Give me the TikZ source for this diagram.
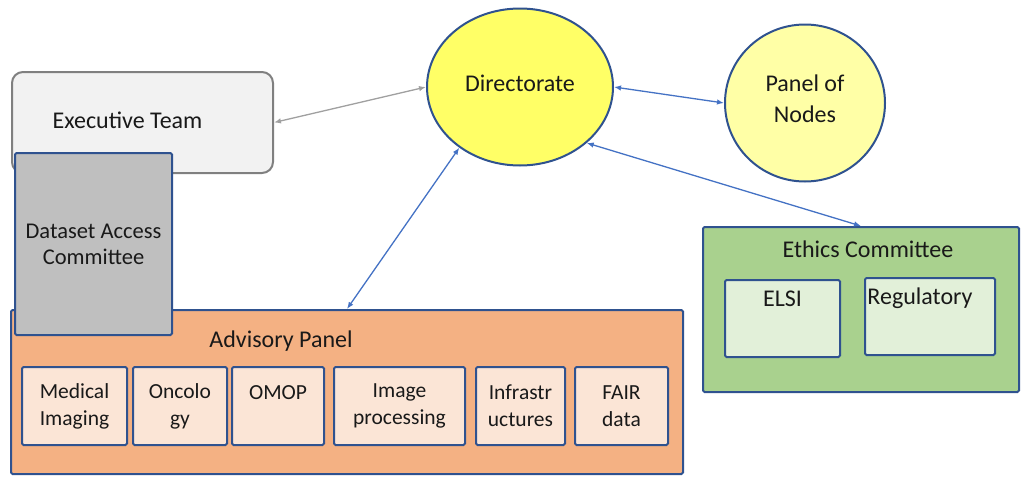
\documentclass[tikz,border=0pt]{standalone}
\usepackage{fontspec}
\setmainfont{Carlito}
\usetikzlibrary{arrows.meta,shapes.geometric}

\definecolor{boxblue}{HTML}{2F528F}
\definecolor{linkblue}{HTML}{4472C4}
\definecolor{linkgray}{HTML}{A0A0A0}
\definecolor{execgray}{HTML}{F2F2F2}
\definecolor{dacgray}{HTML}{BFBFBF}
\definecolor{advorange}{HTML}{F4B183}
\definecolor{advpeach}{HTML}{FBE5D6}
\definecolor{ethgreen}{HTML}{A9D18E}
\definecolor{ethlight}{HTML}{E2F0D9}
\definecolor{diryellow}{HTML}{FFFF66}
\definecolor{panelyellow}{HTML}{FFFFA6}

\tikzset{
  bigtext/.style={font=\fontsize{24}{31}\selectfont, text=black!90},
  smalltext/.style={font=\fontsize{21.5}{27}\selectfont, text=black!90},
  container/.style={draw=boxblue, line width=2pt, rounded corners=1.5pt, inner sep=0pt},
  apbox/.style={container, fill=advpeach, minimum height=78pt, smalltext, align=center},
  ecbox/.style={container, fill=ethlight, minimum height=77pt},
  bubble/.style={ellipse, draw=boxblue, line width=2pt, inner sep=0pt, minimum height=157pt},
  link/.style={linkblue, line width=1.3pt, <->, >={Latex[length=7pt,width=5.5pt]}},
  graylink/.style={link, linkgray}
}

\begin{document}
\begin{tikzpicture}[x=1pt, y=-1pt]
\useasboundingbox (0,0) rectangle (1021,477);

% executive team and the boxes below it
\node[draw=gray, fill=execgray, line width=2pt, rounded corners=11pt, minimum width=261pt, minimum height=101pt] (exec) at (142.5,122.5) {};
\node[bigtext] (exectext) at ([xshift=-15pt,yshift=2pt]exec.center) {Executive Team};
\node[container, fill=advorange, minimum width=672pt, minimum height=164pt] (adv) at (347,392) {};
\node[container, fill=dacgray, minimum width=157pt, minimum height=182pt, align=center,
      font=\fontsize{22.5}{26}\selectfont, text=black!90] (dac) at (93.5,244) {Dataset Access\\Committee};
\node[bigtext] (advtitle) at ([xshift=-66pt,yshift=-32pt]adv.north) {Advisory Panel};

\node[apbox, minimum width=105pt] (medimg) at (74.5,406) {Medical\\Imaging};
\node[apbox, minimum width=94pt] (onco) at (180,406) {Oncolo\\gy};
\node[apbox, minimum width=92pt] (omop) at (278,406) {OMOP\\~};
\node[apbox, minimum width=131pt] (imgproc) at (399.5,406) {Image\\processing};
\node[apbox, minimum width=89pt] (infra) at (520.5,406) {Infrastr\\uctures};
\node[apbox, minimum width=93pt] (fair) at (621.5,406) {FAIR\\data};

% ethics
\node[container, fill=ethgreen, minimum width=316pt, minimum height=165pt] (ethics) at (861,309.5) {};
\node[bigtext] (ethtitle) at ([xshift=7pt,yshift=-23pt]ethics.north) {Ethics Committee};
\node[ecbox, minimum width=115pt] (elsi) at (782.5,318.5) {};
\node[bigtext] (elsitext) at ([yshift=-20pt]elsi.north) {ELSI};
\node[ecbox, minimum width=130pt] (reg) at (930,316.5) {};
\node[bigtext] (regtext) at ([xshift=-10pt,yshift=-21pt]reg.north) {Regulatory};

% directorate and panel
\node[bubble, fill=diryellow, minimum width=186pt] (dir) at (520,87) {};
\node[bigtext] (dirtext) at ([yshift=4pt]dir.center) {Directorate};
\node[bubble, fill=panelyellow, minimum width=160pt] (panel) at (805,103) {};
\node[bigtext, align=center] (paneltext) at ([yshift=4pt]panel.center) {Panel of\\Nodes};

% links
\draw[graylink] (dir.west) -- (exec.east);
\draw[link] (dir.east) -- (panel.west);
\draw[link] (dir.225) -- (adv.north);
\draw[link] (dir.-40) -- (ethics.north);
\end{tikzpicture}
\end{document}
